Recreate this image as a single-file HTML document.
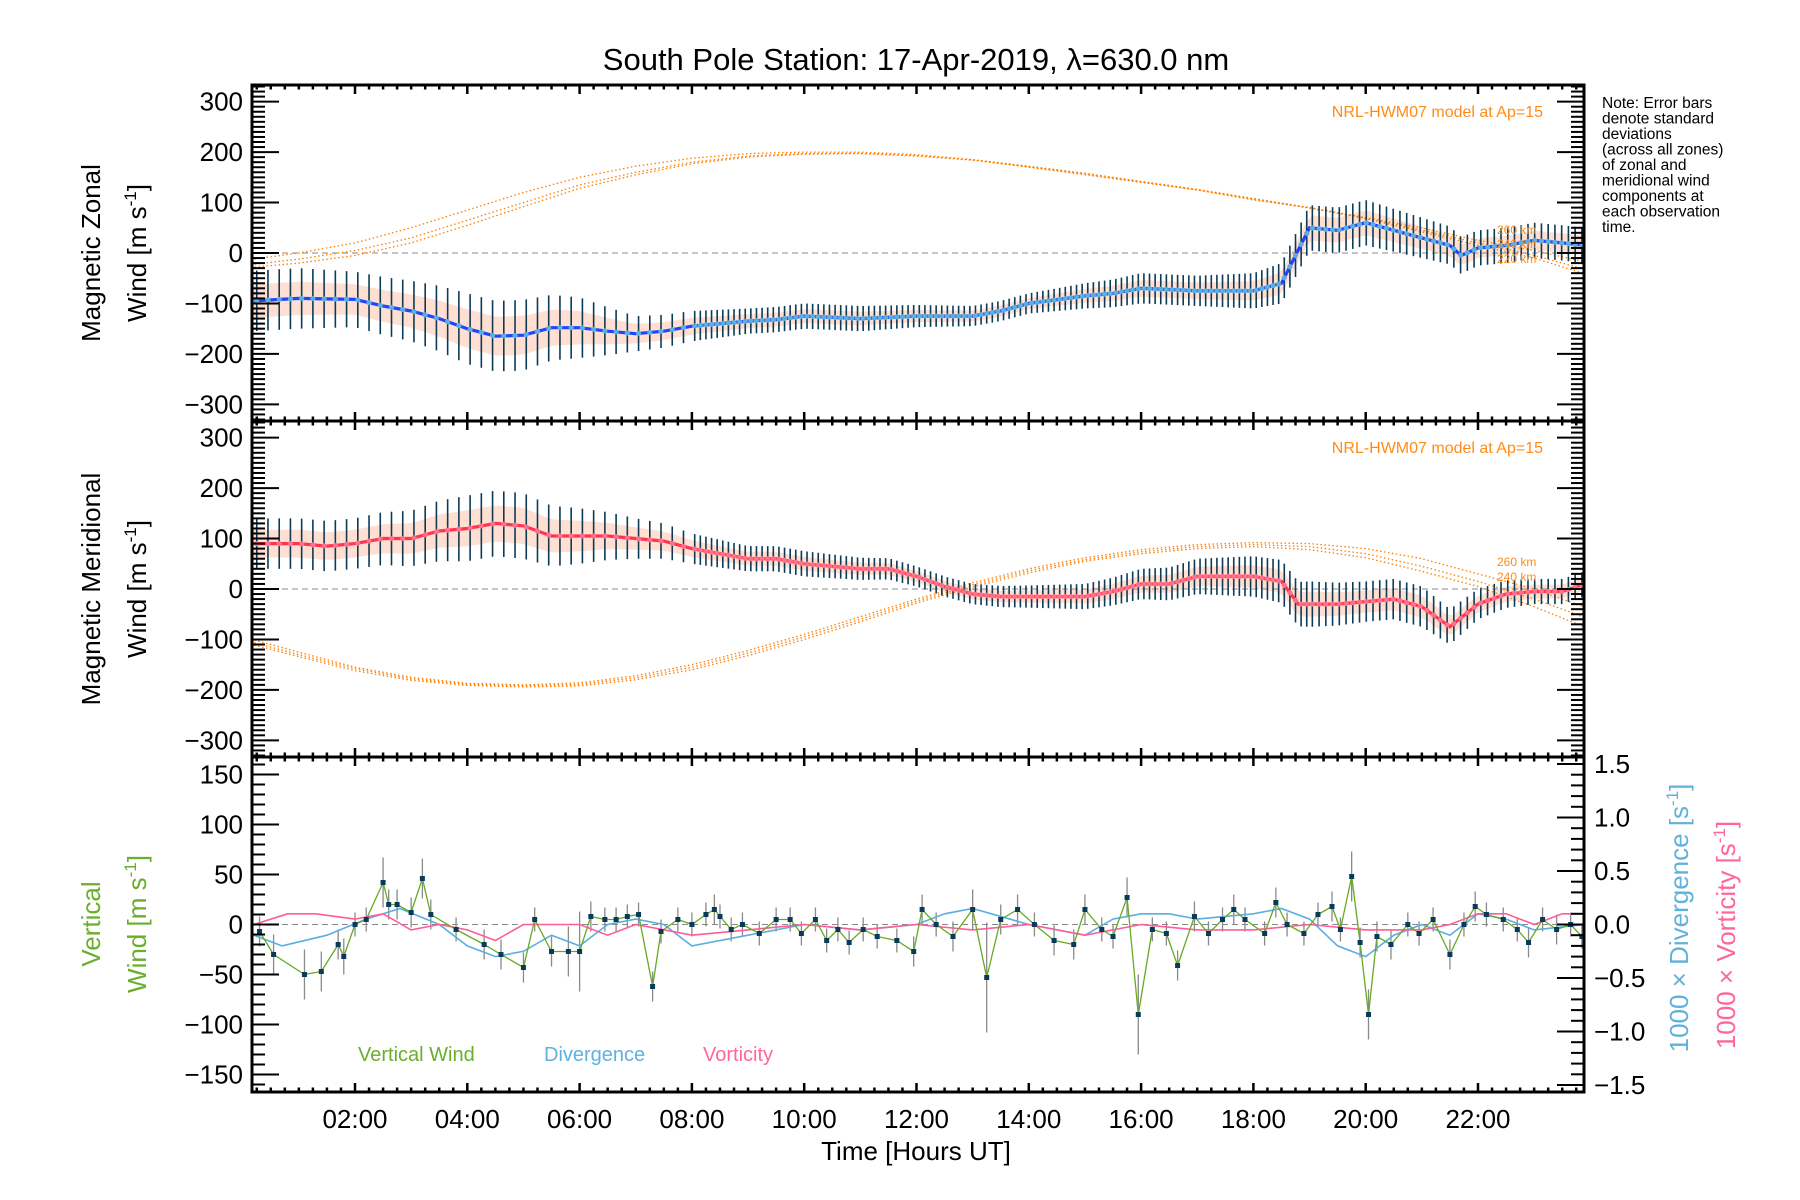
<!DOCTYPE html>
<html><head><meta charset="utf-8"><title>South Pole Station winds</title>
<style>
html,body{margin:0;padding:0;background:#fff;}
svg{display:block;font-family:"Liberation Sans",sans-serif;}
</style></head>
<body>
<svg id="chart" width="1800" height="1200" viewBox="0 0 1800 1200" xmlns="http://www.w3.org/2000/svg">
<defs>
<clipPath id="c1"><rect x="252" y="85" width="1332" height="336"/></clipPath>
<clipPath id="c2"><rect x="252" y="421" width="1332" height="336"/></clipPath>
<clipPath id="c3"><rect x="252" y="757" width="1332" height="335"/></clipPath>
</defs>
<text x="916" y="70" font-size="31" text-anchor="middle">South Pole Station: 17-Apr-2019, λ=630.0 nm</text>
<g id="note" font-size="15.5" fill="#000">
<text x="1602" y="108">Note: Error bars</text>
<text x="1602" y="123.5">denote standard</text>
<text x="1602" y="139">deviations</text>
<text x="1602" y="154.5">(across all zones)</text>
<text x="1602" y="170">of zonal and</text>
<text x="1602" y="185.5">meridional wind</text>
<text x="1602" y="201">components at</text>
<text x="1602" y="216.5">each observation</text>
<text x="1602" y="232">time.</text>
</g>
<g id="layer"></g>
<g font-size="26">
<text transform="translate(100,253) rotate(-90)" text-anchor="middle">Magnetic Zonal</text>
<text transform="translate(146,253) rotate(-90)" text-anchor="middle">Wind [m s<tspan font-size="17" dy="-10">-1</tspan><tspan dy="10">]</tspan></text>
</g>
<g font-size="26">
<text transform="translate(100,589) rotate(-90)" text-anchor="middle">Magnetic Meridional</text>
<text transform="translate(146,589) rotate(-90)" text-anchor="middle">Wind [m s<tspan font-size="17" dy="-10">-1</tspan><tspan dy="10">]</tspan></text>
</g>
<g font-size="26" fill="#6aae2a">
<text transform="translate(100,924) rotate(-90)" text-anchor="middle">Vertical</text>
<text transform="translate(146,924) rotate(-90)" text-anchor="middle">Wind [m s<tspan font-size="17" dy="-10">-1</tspan><tspan dy="10">]</tspan></text>
</g>
<text font-size="26" fill="#62b0dc" transform="translate(1688,918) rotate(-90)" text-anchor="middle">1000 × Divergence [s<tspan font-size="17" dy="-10">-1</tspan><tspan dy="10">]</tspan></text>
<text font-size="26" fill="#ff6699" transform="translate(1735,935) rotate(-90)" text-anchor="middle">1000 × Vorticity [s<tspan font-size="17" dy="-10">-1</tspan><tspan dy="10">]</tspan></text>
<text x="916" y="1160" font-size="26" text-anchor="middle">Time [Hours UT]</text>
<text x="358" y="1061" font-size="20" fill="#6aae2a">Vertical Wind</text>
<text x="544" y="1061" font-size="20" fill="#62b0dc">Divergence</text>
<text x="703" y="1061" font-size="20" fill="#ff6699">Vorticity</text>
<text x="1543" y="117" font-size="16" fill="#ff8c1a" text-anchor="end">NRL-HWM07 model at Ap=15</text>
<text x="1543" y="453" font-size="16" fill="#ff8c1a" text-anchor="end">NRL-HWM07 model at Ap=15</text>
<text x="1497" y="234" font-size="12" fill="#ff8c1a">260 km</text>
<text x="1497" y="248" font-size="12" fill="#ff8c1a">240 km</text>
<text x="1497" y="263" font-size="12" fill="#ff8c1a">220 km</text>
<text x="1497" y="566" font-size="12" fill="#ff8c1a">260 km</text>
<text x="1497" y="581" font-size="12" fill="#ff8c1a">240 km</text>
</svg>
<script>
// ---------- data ----------
const zonalTimes = [0.2,1,2,2.5,3,3.5,4,4.5,5,5.5,6,6.5,7,7.5,8,8.5,9,9.5,10,11,12,13,13.5,14,15,15.5,16,17,18,18.5,19,19.5,20,20.5,21,21.5,21.7,22,22.5,23,23.5,23.9];
const zonalMean = [-95,-90,-92,-105,-115,-130,-150,-165,-163,-148,-148,-155,-160,-155,-145,-140,-135,-132,-125,-130,-125,-125,-115,-100,-85,-80,-70,-75,-75,-60,50,45,60,45,30,15,-5,10,15,25,20,15];
const meridTimes = [0.2,1,1.5,2,2.5,3,3.5,4,4.5,5,5.5,6,6.5,7,7.5,8,8.5,9,9.5,10,10.5,11,11.5,12,12.5,13,13.5,14,15,15.5,16,16.5,17,18,18.5,18.8,19.5,20,20.5,21,21.5,22,22.5,23,23.5,23.9];
const meridMean = [90,90,85,90,100,100,115,120,130,125,105,105,105,100,95,80,70,60,60,50,45,40,40,25,5,-10,-15,-15,-15,-5,10,10,25,25,15,-30,-30,-25,-20,-35,-75,-30,-10,-5,-5,10];
const sigmaHours = [0,1,2,3,4,5,6,7,8,9,10,11,12,13,14,15,16,17,18,19,20,21,22,23,24];
const zonalSigma = [60,60,55,60,70,70,60,35,30,25,25,25,22,20,20,25,30,30,35,45,45,40,35,35,35];
const meridSigma = [50,50,50,55,65,65,55,40,30,25,25,22,20,20,22,25,30,35,40,45,40,40,30,25,25];
const modelHours = [0,1,2,3,4,5,6,7,8,9,10,11,12,13,14,15,16,17,18,19,20,21,22,23,24];
const zonalModel260 = [-15,0,20,50,85,120,150,172,188,197,200,200,195,185,170,155,140,125,105,90,70,50,25,5,-20];
const zonalModel240 = [-25,-12,5,30,65,100,135,160,180,192,197,198,193,185,172,158,142,126,108,90,70,45,20,-5,-35];
const zonalModel220 = [-30,-20,-5,20,55,92,128,155,177,190,196,197,192,184,171,157,141,125,107,89,68,42,15,-10,-45];
const meridModel260 = [-95,-125,-155,-175,-187,-190,-186,-172,-150,-122,-90,-55,-20,12,40,62,78,88,92,90,80,60,30,0,-40];
const meridModel240 = [-100,-130,-158,-178,-189,-192,-189,-176,-155,-127,-95,-60,-24,8,36,58,74,84,88,84,70,45,15,-20,-60];
const meridModel220 = [-105,-134,-162,-181,-191,-194,-192,-180,-160,-132,-100,-65,-28,4,32,55,70,80,84,78,62,35,5,-35,-80];
const vTimes = [0.3,0.55,1.1,1.4,1.7,1.8,2.0,2.2,2.5,2.6,2.75,3.0,3.2,3.35,3.8,4.3,4.6,5.0,5.2,5.5,5.8,6.0,6.2,6.45,6.65,6.85,7.05,7.3,7.45,7.75,8.0,8.25,8.4,8.5,8.7,8.9,9.2,9.5,9.75,9.95,10.2,10.4,10.6,10.8,11.05,11.3,11.65,11.95,12.1,12.35,12.65,13.0,13.25,13.5,13.8,14.1,14.45,14.8,15.0,15.3,15.5,15.75,15.95,16.2,16.45,16.65,16.95,17.2,17.45,17.65,17.85,18.2,18.4,18.6,18.9,19.15,19.4,19.55,19.75,19.9,20.05,20.2,20.45,20.75,20.95,21.2,21.5,21.75,21.95,22.15,22.45,22.7,22.9,23.15,23.4,23.65,23.85];
const vWind = [-7,-30,-50,-47,-20,-32,0,5,42,20,20,12,46,10,-5,-20,-30,-43,5,-27,-27,-27,8,5,5,8,10,-62,-7,5,0,10,15,8,-5,0,-9,5,5,-9,5,-16,-5,-18,-5,-12,-16,-27,15,0,-12,15,-53,5,15,0,-16,-20,15,-5,-12,27,-90,-5,-9,-41,8,-9,5,15,5,-9,22,0,-9,10,18,-5,48,-18,-90,-12,-20,0,-9,5,-30,0,18,10,5,-5,-18,5,-5,0,-12];
const vErr = [15,20,25,20,15,18,12,12,25,15,15,15,20,15,12,15,15,15,12,15,25,40,15,12,12,12,12,15,12,12,12,12,15,12,12,12,12,12,12,12,12,12,12,12,12,12,12,15,15,12,15,20,55,15,15,12,15,15,15,12,12,20,40,12,12,15,15,12,12,15,12,12,15,12,12,12,15,12,25,15,25,15,15,12,12,12,15,12,15,12,12,12,15,12,15,12,12];
const divTimes = [0.2,0.7,1.5,2.2,2.8,3.5,4,4.5,5,5.5,6,6.5,7,7.5,8,9,10,11,12,12.5,13,14,15,15.5,16,16.5,17,18,18.5,19,19.5,20,20.5,21,21.5,22,22.5,23,23.9];
const divVals = [-0.1,-0.2,-0.1,0.05,0.15,0,-0.2,-0.3,-0.25,-0.1,-0.2,0,0.05,0,-0.2,-0.1,0,-0.05,0,0.1,0.15,0,-0.1,0.05,0.1,0.1,0.05,0.1,0.15,0.05,-0.2,-0.3,-0.1,0,-0.1,0.1,0.05,-0.05,0];
const vorTimes = [0.2,0.8,1.3,2,2.5,3,3.5,4,4.5,5,6,6.5,7,8,9,10,11,12,13,14,15,16,17,18,19,20,21,21.5,22,22.5,23,23.5,23.9];
const vorVals = [0,0.1,0.1,0.05,0.1,-0.05,0,-0.05,-0.15,0,0,-0.1,0,-0.1,-0.05,0,-0.05,0,-0.05,0,-0.1,0,-0.05,-0.05,0,-0.05,-0.05,0,0.1,0.1,0,0.1,0.1];
const xTickLabels = ["02:00","04:00","06:00","08:00","10:00","12:00","14:00","16:00","18:00","20:00","22:00"];
const windTickLabels = ["300","200","100","0","−100","−200","−300"];
const vertTickLabels = ["150","100","50","0","−50","−100","−150"];
const rightTickLabels = ["1.5","1.0","0.5","0.0","−0.5","−1.0","−1.5"];

// ---------- axes ----------
const X0=252, X1=1584;
const xs = t => 242.7 + t*56.15;
const panels = [{top:85,bot:421},{top:421,bot:757},{top:757,bot:1092}];
const y1 = v => 253 - v*0.5045;
const y2 = v => 589 - v*0.5045;
const y3 = v => 924.5 - v*1.0;
const yr = v => 924.5 - v*107;
const NS="http://www.w3.org/2000/svg";
const layer=document.getElementById('layer');
function mk(tag,attrs,parent){const e=document.createElementNS(NS,tag);for(const k in attrs)e.setAttribute(k,attrs[k]);(parent||layer).appendChild(e);return e;}
function interp(ts,vs,t){if(t<=ts[0])return vs[0];for(let i=1;i<ts.length;i++){if(t<=ts[i]){const f=(t-ts[i-1])/(ts[i]-ts[i-1]);return vs[i-1]+f*(vs[i]-vs[i-1]);}}return vs[vs.length-1];}
function pathFrom(ts,vs,ys){return ts.map((t,i)=>(i?'L':'M')+xs(t).toFixed(1)+' '+ys(vs[i]).toFixed(1)).join(' ');}

const obs=[];for(let t=0.25;t<23.9;){obs.push(t);t+= t<8?0.2:(t<19?0.1:0.12);}

function windPanel(clip,ys,times,mean,sig,models,lineColor,overColor,name){
  const g=mk('g',{'clip-path':'url(#'+clip+')'});
  
  
  let up=[],dn=[];
  for(let t=0.15;t<=23.95;t+=0.1){const m=interp(times,mean,t),s=interp(sigmaHours,sig,t)*0.55;up.push(xs(t).toFixed(1)+','+ys(m+s).toFixed(1));dn.unshift(xs(t).toFixed(1)+','+ys(m-s).toFixed(1));}
  const band=mk('polygon',{points:up.concat(dn).join(' '),fill:'#ffb899','fill-opacity':'0.45'},g);
  
  
  const z=mk('line',{x1:X0,x2:X1,y1:ys(0),y2:ys(0),stroke:'#888','stroke-dasharray':'6 4','stroke-width':1},g);
  
  
  models.forEach((m,i)=>{const p=mk('path',{d:pathFrom(modelHours,m,ys),fill:'none',stroke:'#ff8000','stroke-width':1.3,'stroke-dasharray':'1.5 2.5'},g);
    
    });
  obs.forEach(t=>{const m=interp(times,mean,t),s=interp(sigmaHours,sig,t);
    const l=mk('line',{x1:xs(t),x2:xs(t),y1:ys(m+s),y2:ys(m-s),stroke:'#0d3b55','stroke-width':1.6},g);
    
    });
  const ml=mk('path',{d:pathFrom(times,mean,ys),fill:'none',stroke:lineColor,'stroke-width':3.2},g);
  
  
  obs.forEach(t=>{const m=interp(times,mean,t);
    const c=mk('circle',{cx:xs(t),cy:ys(m),r:2.6,fill:overColor},g);
    
    });
}
windPanel('c1',y1,zonalTimes,zonalMean,zonalSigma,[zonalModel260,zonalModel240,zonalModel220],'#2244ff','#5aaee0','zonal');
windPanel('c2',y2,meridTimes,meridMean,meridSigma,[meridModel260,meridModel240,meridModel220],'#ff3355','#ff6f86','meridional');

const g3=mk('g',{'clip-path':'url(#c3)'});


const z3=mk('line',{x1:X0,x2:X1,y1:y3(0),y2:y3(0),stroke:'#888','stroke-dasharray':'6 4','stroke-width':1},g3);


vTimes.forEach((t,i)=>{const l=mk('line',{x1:xs(t),x2:xs(t),y1:y3(vWind[i]+vErr[i]),y2:y3(vWind[i]-vErr[i]),stroke:'#8a8a8a','stroke-width':1.3},g3);
  
  });
const dv=mk('path',{d:pathFrom(divTimes,divVals,yr),fill:'none',stroke:'#5aaee0','stroke-width':1.6},g3);


const vo=mk('path',{d:pathFrom(vorTimes,vorVals,yr),fill:'none',stroke:'#ff5c99','stroke-width':1.6},g3);


const vw=mk('path',{d:pathFrom(vTimes,vWind,y3),fill:'none',stroke:'#66aa22','stroke-width':1.3},g3);


vTimes.forEach((t,i)=>{const r=mk('rect',{x:xs(t)-2.5,y:y3(vWind[i])-2.5,width:5,height:5,fill:'#0a3a5a'},g3);
  
  });

const ax=mk('g',{stroke:'#000',fill:'none'});


panels.forEach(p=>{mk('rect',{x:X0,y:p.top,width:X1-X0,height:p.bot-p.top,'stroke-width':3},ax);
  for(let m=0;m<=24*4;m++){const t=m/4;const x=xs(t);if(x<X0||x>X1)continue;const L=(m%8===0)?9:4.5;
    mk('line',{x1:x,x2:x,y1:p.bot,y2:p.bot-L,'stroke-width':2.5},ax);
    mk('line',{x1:x,x2:x,y1:p.top,y2:p.top+L,'stroke-width':2.5},ax);}
});
function yTicks(ys,top,bot,step,major,left,right){
  for(let v=-400;v<=400;v+=step){const y=ys(v);if(y<top+1||y>bot-1)continue;const M=Math.round(v)%major===0;
    const L=M?27:13;
    if(left) mk('line',{x1:X0,x2:X0+L,y1:y,y2:y,'stroke-width':2},ax);
    if(right) mk('line',{x1:X1,x2:X1-L,y1:y,y2:y,'stroke-width':2},ax);}
}
yTicks(y1,85,421,10,100,true,true);
yTicks(y2,421,757,10,100,true,true);
yTicks(y3,757,1092,10,50,true,false);
for(let k=-15;k<=15;k++){const y=yr(k/10);if(y<758||y>1091)continue;const L=(k%5===0)?27:13;mk('line',{x1:X1,x2:X1-L,y1:y,y2:y,'stroke-width':2},ax);}

const tl=mk('g',{'font-size':26,fill:'#000'});


xTickLabels.forEach((s,i)=>{const e=mk('text',{x:xs(2+2*i),y:1128,'text-anchor':'middle'},tl);e.textContent=s;
  
  });
windTickLabels.forEach((s,i)=>{const v=300-100*i;
  [y1,y2].forEach(ys=>{const e=mk('text',{x:243,y:ys(v)+9,'text-anchor':'end'},tl);e.textContent=s;
    
    });});
vertTickLabels.forEach((s,i)=>{const v=150-50*i;const e=mk('text',{x:243,y:y3(v)+9,'text-anchor':'end'},tl);e.textContent=s;
  
  });
rightTickLabels.forEach((s,i)=>{const v=1.5-0.5*i;const e=mk('text',{x:1594,y:yr(v)+9,'text-anchor':'start'},tl);e.textContent=s;
  
  });
</script>
</body></html>
